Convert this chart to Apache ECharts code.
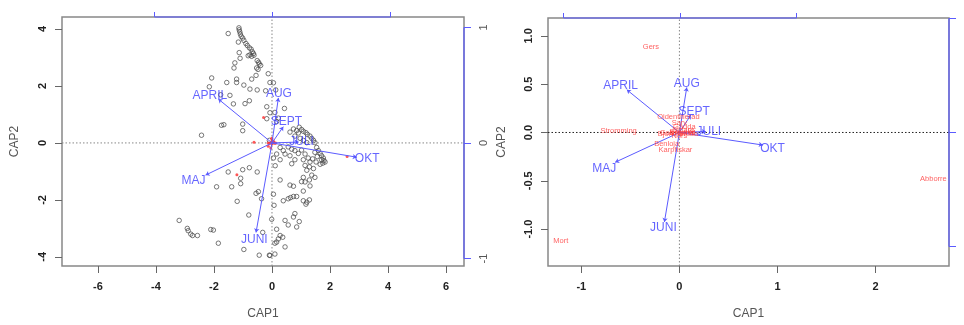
<!DOCTYPE html>
<html>
<head>
<meta charset="utf-8">
<script src="https://cdn.jsdelivr.net/npm/echarts@6.0.0/dist/echarts.min.js"></script>
<style>
html,body{margin:0;padding:0;background:#fff;}
#chart{width:964px;height:325px;}
</style>
</head>
<body>
<div id="chart"></div>
<script>
// ---- Site scores (left panel, black open circles) ----
var siteCAP1 = [-1.51,-1.16,-1.14,-1.13,-1.11,-1.09,-1.06,-1.01,-0.97,-0.90,-0.85,-0.78,-0.72,-0.68,-0.64,-0.82,-0.76,-0.70,-0.62,-0.51,-0.46,-0.44,-0.39,-0.53,-0.48,-1.13,-1.10,-1.28,-1.31,-2.08,-2.16,-1.56,-1.22,-1.22,-0.97,-0.70,-0.55,-0.76,-0.51,-0.13,-0.07,0.05,-0.22,0.13,-1.45,-1.77,-1.33,-0.93,-0.78,-0.18,-0.07,0.10,0.43,-0.18,0.22,0.16,-1.74,-1.66,-1.01,-1.01,-2.43,-0.09,0.94,1.02,1.08,1.17,1.22,1.31,1.37,1.43,1.48,0.85,0.91,0.79,0.97,1.08,1.20,1.54,1.60,1.66,1.71,1.77,1.79,1.75,1.66,1.83,1.71,1.48,1.56,1.40,1.52,0.28,0.39,0.56,0.68,0.45,0.62,0.79,0.91,1.02,1.14,0.79,1.08,1.25,1.31,1.14,1.29,1.43,1.20,1.37,1.08,1.48,1.29,0.68,0.28,0.16,0.05,0.28,1.02,0.11,0.74,0.62,-1.91,-1.39,-1.08,-0.55,-0.47,-1.20,-0.80,-3.20,-2.92,-2.89,-2.80,-2.74,-2.57,-2.11,-2.02,-1.85,-0.32,-0.97,-0.44,-0.09,-1.51,-1.01,-0.78,-0.51,-1.08,0.62,0.74,1.31,1.14,1.08,0.05,0.39,0.56,0.64,0.74,0.85,1.08,1.20,1.29,1.17,0.07,0.79,0.74,0.45,0.94,0.56,0.85,-0.01,0.16,0.28,0.37,0.22,0.16,0.10,0.45,0.10,-0.07,-0.36];
var siteCAP2 = [3.84,3.54,4.04,3.97,3.90,3.82,3.74,3.68,3.60,3.49,3.42,3.34,3.29,3.20,3.14,3.06,3.09,3.04,3.08,2.89,2.83,2.77,2.72,2.63,2.58,3.17,2.97,2.81,2.63,2.28,1.97,2.12,2.24,2.12,2.03,2.24,2.37,1.89,1.86,2.43,2.12,2.11,1.83,1.86,1.67,1.69,1.37,1.38,1.48,1.27,1.06,1.07,1.21,0.85,0.87,0.75,0.62,0.64,0.66,0.43,0.27,0.09,0.55,0.47,0.41,0.36,0.30,0.24,0.16,0.09,0.01,0.43,0.35,0.24,0.16,0.09,0.01,-0.16,-0.27,-0.37,-0.45,-0.53,-0.62,-0.71,-0.75,-0.67,-0.59,-0.33,-0.48,-0.56,-0.67,-0.16,-0.27,-0.14,-0.22,-0.39,-0.45,-0.27,-0.37,-0.25,-0.39,-0.59,-0.59,-0.53,-0.67,-0.79,-0.84,-0.90,-0.96,-1.13,-1.21,-1.21,-1.30,-0.73,-0.59,-0.39,-0.53,-1.30,-1.36,-0.80,0.49,0.38,-1.54,-1.54,-1.43,-1.77,-1.71,-2.05,-2.53,-2.72,-3.00,-3.08,-3.20,-3.25,-3.25,-3.04,-3.06,-3.52,-3.14,-3.74,-3.94,-3.94,-1.02,-0.94,-0.87,-1.02,-1.24,-1.48,-1.52,-1.51,-1.37,-1.69,-1.80,-2.03,-1.96,-1.92,-1.88,-1.88,-2.03,-2.08,-2.00,-2.15,-2.19,-2.48,-2.60,-2.72,-2.76,-2.88,-2.95,-2.68,-3.03,-3.25,-3.31,-3.37,-3.48,-3.52,-3.65,-3.90,-3.95,-1.96];

// ---- Species scores (red) ----
var speciesNames = ['Abborre','Mort','Gers','Stromming','Oidentifierad','Sarv','Gadda','Benloja','Karpfiskar','Gos','Sik','Braxen','Lake','Ruda','Id','Bjorkna','Sutare','Nors'];
var speciesCAP1  = [2.59,-1.21,-0.29,-0.62,-0.01,0.00,0.05,-0.13,-0.04,-0.13,-0.05,0.02,0.08,0.10,0.13,-0.09,0.04,0.00];
var speciesCAP2  = [-0.48,-1.12,0.89,0.02,0.16,0.10,0.06,-0.12,-0.18,0.00,0.01,0.00,0.01,-0.01,0.00,-0.02,0.03,-0.04];

// ---- Biplot arrows (months) ----
var months = ['APRIL','AUG','SEPT','JULI','OKT','MAJ','JUNI'];
// left panel
var arrowL_CAP1 = [-1.85,0.22,0.39,0.92,2.92,-2.29,-0.55];
var arrowL_CAP2 = [1.54,1.58,0.57,0.03,-0.50,-1.13,-3.14];
var labelL_CAP1 = [-2.14,0.24,0.50,1.02,3.28,-2.71,-0.61];
var labelL_CAP2 = [1.66,1.72,0.74,0.03,-0.57,-1.31,-3.41];
// right panel
var arrowR_CAP1 = [-0.536,0.075,0.116,0.27,0.85,-0.655,-0.153];
var arrowR_CAP2 = [0.442,0.466,0.18,0.01,-0.13,-0.308,-0.926];
var labelR_CAP1 = [-0.60,0.075,0.15,0.30,0.95,-0.767,-0.163];
var labelR_CAP2 = [0.48,0.50,0.22,0.005,-0.166,-0.375,-0.987];

// ---- Axis ticks ----
var ticksL_x = [-6,-4,-2,0,2,4,6];
var ticksL_y = [-4,-2,0,2,4];
var ticksR_x = [-1,0,1,2];
var ticksR_y = [-1,-0.5,0,0.5,1];
var ticksBlue = [-1,0,1];

// axis ranges (from picture)
var L = {xmin:-7.24, xmax:6.62, ymin:-4.32, ymax:4.42, bxmin:-1.786, bxmax:1.621, bymin:-1.065, bymax:1.090};
var R = {xmin:-1.34, xmax:2.749, ymin:-1.382, ymax:1.185, bxmin:-1.135, bxmax:2.31, bymin:-1.170, bymax:1.003};

var FONT = 'Liberation Sans, Arial, sans-serif';
var BLUE_TXT = '#3f3fff';
var BLUE_LN = '#5b5bff';
var RED = '#ff3a3a';

function mainX(grid, r, ticks, fmt){
  return {gridIndex:grid, type:'value', position:'bottom', min:r.xmin, max:r.xmax,
    axisLine:{show:false, onZero:false}, splitLine:{show:false},
    axisTick:{show:true, customValues:ticks, length:7, lineStyle:{color:'#666', width:1}},
    axisLabel:{show:true, customValues:ticks, margin:15, fontSize:11, fontWeight:'bold', color:'#222', fontFamily:FONT, formatter:fmt},
    name:'CAP1', nameLocation:'middle', nameGap:42, nameTextStyle:{fontSize:12, color:'#555', fontFamily:FONT}};
}
function mainY(grid, r, ticks, fmt, gap){
  return {gridIndex:grid, type:'value', position:'left', min:r.ymin, max:r.ymax,
    axisLine:{show:false, onZero:false}, splitLine:{show:false},
    axisTick:{show:true, customValues:ticks, length:7, lineStyle:{color:'#666', width:1}},
    axisLabel:{show:true, customValues:ticks, rotate:90, margin:14, fontSize:11, fontWeight:'bold', color:'#222', fontFamily:FONT, formatter:fmt},
    name:'CAP2', nameLocation:'middle', nameGap:gap, nameTextStyle:{fontSize:12, color:'#555', fontFamily:FONT}};
}
function blueX(grid, r){
  return {gridIndex:grid, type:'value', position:'top', min:r.bxmin, max:r.bxmax,
    axisLine:{show:false, onZero:false}, splitLine:{show:false},
    axisTick:{show:true, customValues:ticksBlue, length:5, lineStyle:{color:BLUE_LN, width:1}},
    axisLabel:{show:false}};
}
function blueY(grid, r, showLabels){
  return {gridIndex:grid, type:'value', position:'right', min:r.bymin, max:r.bymax,
    axisLine:{show:false, onZero:false}, splitLine:{show:false},
    axisTick:{show:true, customValues:ticksBlue, length:7, lineStyle:{color:BLUE_LN, width:1}},
    axisLabel:{show:showLabels, customValues:ticksBlue, rotate:90, margin:14, fontSize:11, color:'#555', fontFamily:FONT}};
}
function fmt1(v){ return (Math.abs(v) < 1e-9) ? '0.0' : v.toFixed(1); }
function fmt0(v){ return String(Math.round(v)); }

function zeroLines(xi, yi, r, color){
  return [
    {type:'line', xAxisIndex:xi, yAxisIndex:yi, data:[[r.xmin,0],[r.xmax,0]], symbol:'none', silent:true,
      lineStyle:{color:color, width:1, type:[1.5,2]}, z:1},
    {type:'line', xAxisIndex:xi, yAxisIndex:yi, data:[[0,r.ymin],[0,r.ymax]], symbol:'none', silent:true,
      lineStyle:{color:'#888', width:1, type:[1.5,2]}, z:1}
  ];
}
function blueAxisLines(xi, yi, r){
  return [
    {type:'line', xAxisIndex:xi, yAxisIndex:yi, data:[[ticksBlue[0], r.bymax],[ticksBlue[ticksBlue.length-1], r.bymax]], symbol:'none', clip:false, silent:true,
      lineStyle:{color:BLUE_LN, width:1.2}, z:6},
    {type:'line', xAxisIndex:xi, yAxisIndex:yi, data:[[r.bxmax, ticksBlue[0]],[r.bxmax, ticksBlue[ticksBlue.length-1]]], symbol:'none', clip:false, silent:true,
      lineStyle:{color:BLUE_LN, width:1.2}, z:6}
  ];
}
function arrows(xi, yi, ax, ay){
  return {type:'lines', coordinateSystem:'cartesian2d', xAxisIndex:xi, yAxisIndex:yi, silent:true,
    symbol:['none','arrow'], symbolSize:4,
    lineStyle:{color:BLUE_LN, width:1, opacity:1},
    data: months.map(function(m,i){ return {coords:[[0,0],[ax[i],ay[i]]]}; }), z:5};
}
function labels(xi, yi, names, lx, ly, color, size){
  return {type:'scatter', xAxisIndex:xi, yAxisIndex:yi, silent:true, symbolSize:1,
    itemStyle:{color:'rgba(0,0,0,0)'},
    label:{show:true, position:'inside', formatter:'{b}', color:color, fontSize:size, fontFamily:FONT},
    data: names.map(function(n,i){ return {name:n, value:[lx[i],ly[i]]}; }), z:7};
}

var sitesData = siteCAP1.map(function(x,i){ return [x, siteCAP2[i]]; });
var speciesData = speciesCAP1.map(function(x,i){ return [x, speciesCAP2[i]]; });

var series = [];
series = series.concat(zeroLines(0,0,L,'#888'));
series.push({type:'scatter', xAxisIndex:0, yAxisIndex:0, data:sitesData, symbol:'circle', symbolSize:4.5, silent:true,
  itemStyle:{color:'rgba(0,0,0,0)', borderColor:'#444', borderWidth:0.9}, z:2});
series.push({type:'scatter', xAxisIndex:0, yAxisIndex:0, data:speciesData, symbol:'circle', symbolSize:3, silent:true,
  itemStyle:{color:RED, opacity:0.85}, z:3});
series.push(arrows(0,0,arrowL_CAP1,arrowL_CAP2));
series.push(labels(0,0,months,labelL_CAP1,labelL_CAP2,BLUE_TXT,12));
series = series.concat(blueAxisLines(1,1,L));

series = series.concat(zeroLines(2,2,R,'#222'));
series.push(labels(2,2,speciesNames,speciesCAP1,speciesCAP2,RED,7.5));
series.push(arrows(2,2,arrowR_CAP1,arrowR_CAP2));
series.push(labels(2,2,months,labelR_CAP1,labelR_CAP2,BLUE_TXT,12));
series = series.concat(blueAxisLines(3,3,R));

var option = {
  animation:false,
  backgroundColor:'#fff',
  grid:[
    {left:62, top:17, width:402, height:255, show:true, borderColor:'#888', borderWidth:1.5, backgroundColor:'transparent'},
    {left:548, top:18, width:401, height:254, show:true, borderColor:'#888', borderWidth:1.5, backgroundColor:'transparent'}
  ],
  xAxis:[ mainX(0,L,ticksL_x,fmt0), blueX(0,L), mainX(1,R,ticksR_x,fmt0), blueX(1,R) ],
  yAxis:[ mainY(0,L,ticksL_y,fmt0,41), blueY(0,L,true), mainY(1,R,ticksR_y,fmt1,40), blueY(1,R,false) ],
  series:series
};

var chart = echarts.init(document.getElementById('chart'), null, {renderer:'canvas'});
chart.setOption(option);
</script>
</body>
</html>
